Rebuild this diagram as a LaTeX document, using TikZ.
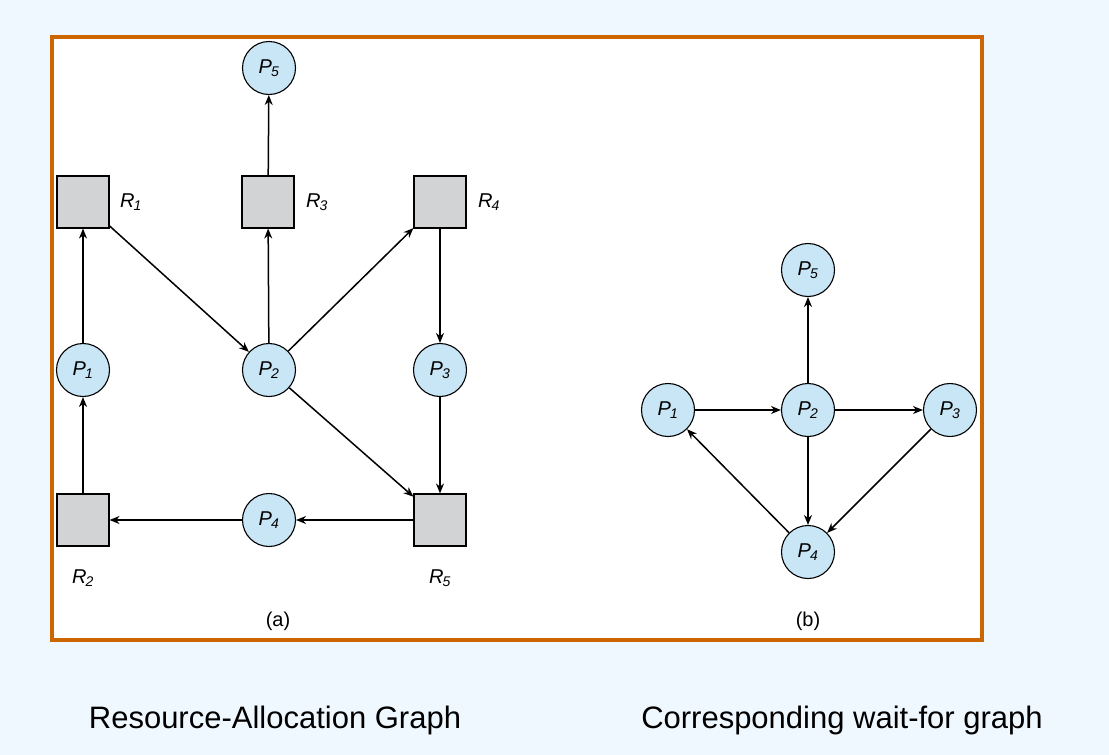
\documentclass[tikz,border=0pt]{standalone}
\usepackage{fontspec}
\setmainfont{Liberation Sans}
\usetikzlibrary{arrows.meta}
\definecolor{bgblue}{RGB}{240,248,255}
\definecolor{pfill}{RGB}{200,230,246}
\definecolor{rfill}{RGB}{210,211,212}
\definecolor{frame}{RGB}{204,102,0}
\begin{document}
\begin{tikzpicture}[x=1pt,y=-1pt,
  proc/.style={circle,draw=black,line width=1.1pt,fill=pfill,minimum size=53pt,inner sep=0pt,font=\fontsize{20}{20}\selectfont\itshape},
  res/.style={rectangle,draw=black,line width=1.1pt,fill=rfill,minimum size=52pt,inner sep=0pt},
  lab/.style={font=\fontsize{20}{20}\selectfont\itshape},
  edge/.style={line width=1.5pt,-{Stealth[length=10pt,width=8pt]}},
  subcap/.style={font=\fontsize{20}{20}\selectfont}]
\fill[bgblue] (0,0) rectangle (1109,755);
\useasboundingbox (0,0) rectangle (1109,755);
\fill[white] (52,37) rectangle (982,640);
% (a)
\node[res] (R1) at (83,202) {};
\node[res] (R3) at (268,202) {};
\node[res] (R4) at (440,202) {};
\node[res] (R2) at (83,520) {};
\node[res] (R5) at (440,520) {};
\node[proc] (P5) at (269,68) {P\textsubscript{\kern-1pt 5}};
\node[proc] (P1) at (83,370) {P\textsubscript{\kern-1pt 1}};
\node[proc] (P2) at (269,370) {P\textsubscript{\kern-1pt 2}};
\node[proc] (P3) at (440,370) {P\textsubscript{\kern-1pt 3}};
\node[proc] (P4) at (269,520) {P\textsubscript{\kern-1pt 4}};
\node[lab] (lR1) at (131,202) {R\textsubscript{\kern-1pt 1}};
\node[lab] (lR3) at (317,202) {R\textsubscript{\kern-1pt 3}};
\node[lab] (lR4) at (489,202) {R\textsubscript{\kern-1pt 4}};
\node[lab] (lR2) at (83,578) {R\textsubscript{\kern-1pt 2}};
\node[lab] (lR5) at (440,578) {R\textsubscript{\kern-1pt 5}};
\node[subcap] (ca) at (278,621) {(a)};
\draw[edge] (R1) -- (P2);
\draw[edge] (P2) -- (R3);
\draw[edge] (R3) -- (P5);
\draw[edge] (P2) -- (R4);
\draw[edge] (R4) -- (P3);
\draw[edge] (P3) -- (R5);
\draw[edge] (P2) -- (R5);
\draw[edge] (R5) -- (P4);
\draw[edge] (P4) -- (R2);
\draw[edge] (R2) -- (P1);
\draw[edge] (P1) -- (R1);
% (b)
\node[proc] (Q5) at (808,270) {P\textsubscript{\kern-1pt 5}};
\node[proc] (Q1) at (668,410) {P\textsubscript{\kern-1pt 1}};
\node[proc] (Q2) at (808,410) {P\textsubscript{\kern-1pt 2}};
\node[proc] (Q3) at (950,410) {P\textsubscript{\kern-1pt 3}};
\node[proc] (Q4) at (808,552) {P\textsubscript{\kern-1pt 4}};
\node[subcap] (cb) at (808,621) {(b)};
\draw[edge] (Q1) -- (Q2);
\draw[edge] (Q2) -- (Q3);
\draw[edge] (Q2) -- (Q5);
\draw[edge] (Q2) -- (Q4);
\draw[edge] (Q3) -- (Q4);
\draw[edge] (Q4) -- (Q1);
\draw[frame,line width=4.5pt] (52,37) rectangle (982,640);
\node[font=\fontsize{31}{31}\selectfont] (t1) at (275,720) {Resource-Allocation Graph};
\node[font=\fontsize{31}{31}\selectfont] (t2) at (842,720) {Corresponding wait-for graph};
\end{tikzpicture}
\end{document}
